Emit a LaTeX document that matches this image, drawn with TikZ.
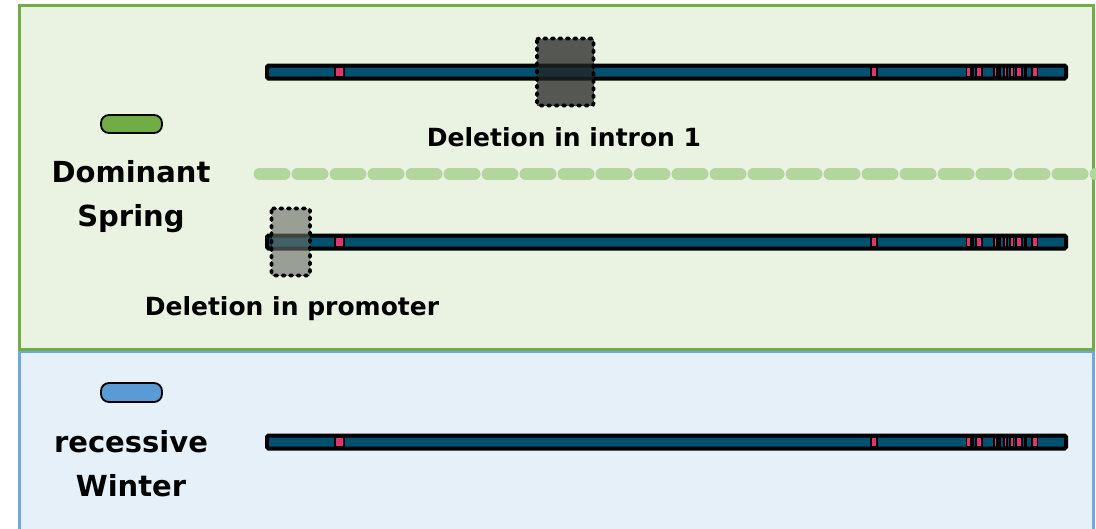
\documentclass[tikz,border=0pt]{standalone}
\usepackage{fontspec}
\setmainfont{DejaVu Sans}
\begin{document}
\begin{tikzpicture}[x=1pt,y=-1pt,
  panelgreen/.style={draw=borderGreen,line width=3pt,fill=bgGreen},
  panelblue/.style={draw=borderBlue,line width=3pt,fill=bgBlue},
  pill/.style={draw=black,line width=1.8pt,rounded corners=8pt},
  bartrack/.style={draw=black,fill=barBlue,line width=4pt,rounded corners=1.5pt},
  exon/.style={fill=exonPink,draw=black,line width=1.1pt},
  delbox/.style={draw=black,line width=3.6pt,line cap=round,dash pattern=on 2.4pt off 5.1pt,rounded corners=2pt},
  bigtxt/.style={font=\bfseries\fontsize{29}{44}\selectfont,align=center},
  midtxt/.style={font=\bfseries\fontsize{25}{30}\selectfont,anchor=center}
]
\definecolor{bgGreen}{HTML}{EAF2E2}
\definecolor{bgBlue}{HTML}{E6F0F9}
\definecolor{borderGreen}{HTML}{70AD47}
\definecolor{borderBlue}{HTML}{6FA8DC}
\definecolor{pillGreen}{HTML}{70AD47}
\definecolor{pillBlue}{HTML}{5B9BD5}
\definecolor{barBlue}{HTML}{00506F}
\definecolor{exonPink}{HTML}{E3336F}
\definecolor{dashGreen}{HTML}{B3D59E}
\useasboundingbox (0,0) rectangle (1096,528);
\fill[white] (0,0) rectangle (1096,528);

% panels
\draw[panelblue] (19.5,351) rectangle (1093.5,540);
\draw[panelgreen] (19.5,5) rectangle (1093.5,349.5);

% legend pills and labels
\node[pill,fill=pillGreen,minimum width=61pt,minimum height=18pt,inner sep=0pt] (pillS) at (131.5,124) {};
\node[bigtxt] (labS) at (131,196.5) {Dominant\\Spring};
\node[pill,fill=pillBlue,minimum width=61pt,minimum height=19pt,inner sep=0pt] (pillW) at (131.5,392.5) {};
\node[bigtxt] (labW) at (131,463.5) {recessive\\Winter};

% separating dashed line
\coordinate (dashA) at (259.5,174);
\coordinate (dashB) at (1100,174);
\draw[dashGreen,line width=12pt,line cap=round,dash pattern=on 25pt off 13pt] (dashA) -- (dashB);

% gene tracks
\foreach \yc/\nm in {72/top,242/mid,442/bot}{
  \draw[bartrack] (267,\yc-6.5) rectangle (1066,\yc+6.5);
  \foreach \xa/\xb in {335/344,871/877,966.5/970.5,972/973.5,976/982,994/997,999/1000,1004/1007,1010/1013.5,1016/1022,1025/1026,1032/1037.5}{
    \draw[exon] (\xa,\yc-4.6) rectangle (\xb,\yc+4.6);
  }
}

% deletions
\fill[black!85!bgGreen,opacity=0.75] (537,38.5) rectangle (593.5,105.5);
\draw[delbox] (537,38.5) rectangle (593.5,105.5);
\fill[black!55!bgGreen,opacity=0.62] (271.5,208.5) rectangle (310,275.5);
\draw[delbox] (271.5,208.5) rectangle (310,275.5);

\node[midtxt] (delI) at (564,137) {Deletion in intron 1};
\node[midtxt] (delP) at (292,309) {Deletion in promoter};
\end{tikzpicture}
\end{document}
